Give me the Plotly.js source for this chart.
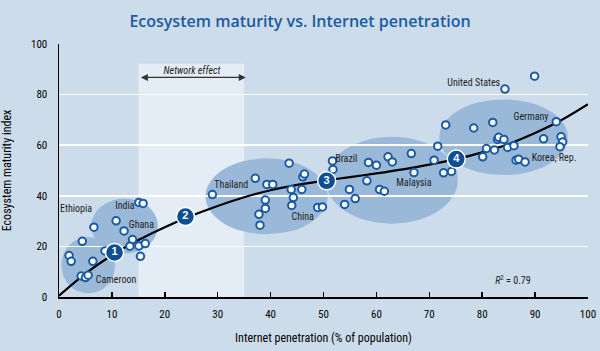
<!DOCTYPE html>
<html>
<head>
<meta charset="utf-8">
<script src="https://cdn.plot.ly/plotly-3.0.1.min.js"></script>
<style>
html,body{margin:0;padding:0;background:#cddcea;}
#chart{width:600px;height:351px;}
.main-svg text{font-stretch:condensed;}
.main-svg .gtitle{font-stretch:normal !important;}
</style>
</head>
<body>
<div id="chart"></div>
<script>
// Country observations (internet penetration %, ecosystem maturity index)
const pointX = [1.9, 2.3, 4.4, 6.6, 6.4, 4.2, 5.0, 5.5, 8.7, 10.8, 12.3, 13.9, 13.4, 15.1, 16.3, 15.4, 15.1, 15.9,
  29.0, 37.1, 39.3, 40.4, 39.0, 39.0, 37.8, 38.0, 43.5, 43.9, 44.3, 44.0, 45.9, 46.1, 46.4, 48.9, 49.8,
  51.7, 51.8, 54.9, 56.0, 54.0, 58.2, 58.5, 60.0, 60.6, 61.5, 62.2, 63.0, 66.6, 67.1, 70.9, 71.6, 72.7, 74.2,
  89.9, 84.3, 73.1, 78.4, 82.0, 80.1, 80.8, 82.3, 82.9, 83.1, 84.1, 84.8, 86.0, 86.4, 86.9, 88.1, 91.6, 94.0, 94.9, 95.2, 94.7];
const pointY = [16.4, 14.1, 22.0, 27.6, 14.1, 8.3, 7.7, 8.6, 18.2, 30.1, 26.1, 22.7, 20.1, 20.2, 21.1, 16.1, 37.4, 37.0,
  40.5, 46.9, 44.5, 44.5, 38.3, 35.0, 32.7, 28.4, 52.9, 42.5, 39.3, 36.2, 42.5, 47.5, 48.6, 35.4, 35.6,
  53.8, 50.4, 42.5, 38.9, 36.6, 45.9, 53.2, 52.1, 42.5, 41.8, 55.4, 53.4, 56.7, 49.2, 54.1, 59.6, 49.1, 49.6,
  87.3, 82.2, 68.0, 66.8, 69.0, 55.4, 58.7, 58.1, 62.3, 63.1, 62.3, 59.1, 59.8, 54.1, 54.4, 53.4, 62.5, 69.3, 63.3, 61.3, 59.4];

// Fitted trend curve
const fitX = [0, 5, 10, 15, 20, 25, 30, 35, 40, 45, 50, 55, 60, 65, 70, 75, 80, 85, 90, 95, 100];
const fitY = [0.5, 9.25, 16.5, 22.5, 27.6, 32.1, 36.0, 39.45, 42.2, 44.3, 45.95, 47.4, 48.85, 50.45, 52.3, 54.5, 57.15, 60.5, 64.8, 69.95, 76.2];

// Numbered stage markers on the curve
const stageX = [10.5, 23.9, 50.6, 75.1];
const stageY = [17.6, 31.8, 45.9, 54.5];
const stageText = ['1', '2', '3', '4'];

// Country labels
const labelText = ['Ethiopia', 'India', 'Ghana', 'Cameroon', 'Thailand', 'China', 'Brazil', 'Malaysia', 'United States', 'Germany', 'Korea, Rep.'];
const labelX = [3.2, 12.5, 15.5, 10.75, 32.5, 46.0, 54.4, 67.2, 78.4, 89.25, 93.6];
const labelY = [35.0, 36.3, 28.8, 7.0, 44.6, 31.7, 54.8, 45.3, 84.8, 71.2, 55.2];

// Cluster ellipses [x0, x1, y0, y1]
const clusterX0 = [0.45, 6.1, 27.7, 50.4, 71.9];
const clusterX1 = [10.6, 18.7, 50.8, 75.4, 96.2];
const clusterY0 = [1.4, 17.2, 24.8, 29.0, 48.2];
const clusterY1 = [23.7, 38.9, 54.8, 63.3, 78.1];

// Network-effect band
const bandX = [15, 35];
const bandTop = 92.2;

const narrow = 'Roboto, DejaVu Sans, sans-serif';

const shapes = [{
  type: 'rect', xref: 'x', yref: 'y', x0: bandX[0], x1: bandX[1], y0: 0, y1: bandTop,
  fillcolor: '#e4ecf5', line: {width: 0}, layer: 'below'
}];
for (let i = 0; i < clusterX0.length; i++) {
  shapes.push({
    type: 'circle', xref: 'x', yref: 'y', x0: clusterX0[i], x1: clusterX1[i], y0: clusterY0[i], y1: clusterY1[i],
    fillcolor: '#9ab9d9', line: {width: 0}, layer: 'below'
  });
}

const annotations = labelText.map((t, i) => ({
  x: labelX[i], y: labelY[i], text: t, showarrow: false, xref: 'x', yref: 'y',
  font: {family: narrow, size: 10, color: '#222'}
}));
annotations.push({
  x: 85.8, y: 6.6, xref: 'x', yref: 'y', showarrow: false,
  text: '<i>R</i><sup>2</sup> = 0.79', font: {family: narrow, size: 10, color: '#222'}
});
annotations.push({
  x: bandX[1] + 0.3, y: 86.8, ax: bandX[0] + 0.2, ay: 86.8, xref: 'x', yref: 'y', axref: 'x', ayref: 'y',
  text: '', showarrow: true, arrowhead: 2, arrowside: 'end+start', arrowsize: 1, arrowwidth: 1.4,
  arrowcolor: '#333', standoff: 0, startstandoff: 0
});
annotations.push({
  x: 25.2, y: 89.6, xref: 'x', yref: 'y', showarrow: false,
  text: '<i>Network effect</i>', font: {family: narrow, size: 10, color: '#222'}
});

const traces = [
  {x: fitX, y: fitY, mode: 'lines', line: {color: '#000', width: 2.2, shape: 'spline', smoothing: 1}, hoverinfo: 'skip'},
  {x: pointX, y: pointY, mode: 'markers', marker: {size: 7.5, color: '#ffffff', line: {color: '#1a5aa6', width: 2}}},
  {x: stageX, y: stageY, mode: 'markers+text', text: stageText, textposition: 'middle center',
   textfont: {family: 'Liberation Sans, Arial, sans-serif', size: 11, color: '#ffffff', weight: 'bold'},
   marker: {size: 18, color: '#0c4f93', line: {color: '#ffffff', width: 1.5}}}
];

const layout = {
  width: 600, height: 351,
  margin: {l: 59, r: 12, t: 44, b: 54},
  paper_bgcolor: '#cddcea', plot_bgcolor: '#cddcea',
  showlegend: false,
  title: {text: 'Ecosystem maturity vs. Internet penetration', x: 0.5, xanchor: 'center', y: 0.94, yanchor: 'middle',
    font: {family: 'Open Sans, sans-serif', size: 16, color: '#1a5ba2', weight: 600}},
  xaxis: {
    range: [0, 100], dtick: 10, showgrid: false, zeroline: false,
    showline: true, linecolor: '#000', linewidth: 1.5,
    ticks: 'inside', ticklen: 5, tickwidth: 1.5, tickcolor: '#000',
    tickfont: {family: narrow, size: 11, color: '#000'}, ticklabelstandoff: 6,
    title: {text: 'Internet penetration (% of population)', font: {family: narrow, size: 12, color: '#000'}, standoff: 14}
  },
  yaxis: {
    range: [0, 100], dtick: 20, showgrid: true, gridcolor: '#ffffff', gridwidth: 1.5, zeroline: false,
    showline: true, linecolor: '#000', linewidth: 1.5, ticks: '',
    tickfont: {family: narrow, size: 11, color: '#000'}, ticklabelstandoff: 8,
    title: {text: 'Ecosystem maturity index', font: {family: narrow, size: 12, color: '#000'}, standoff: 16}
  },
  shapes: shapes,
  annotations: annotations
};

Plotly.newPlot('chart', traces, layout, {displayModeBar: false, staticPlot: true});
</script>
</body>
</html>
